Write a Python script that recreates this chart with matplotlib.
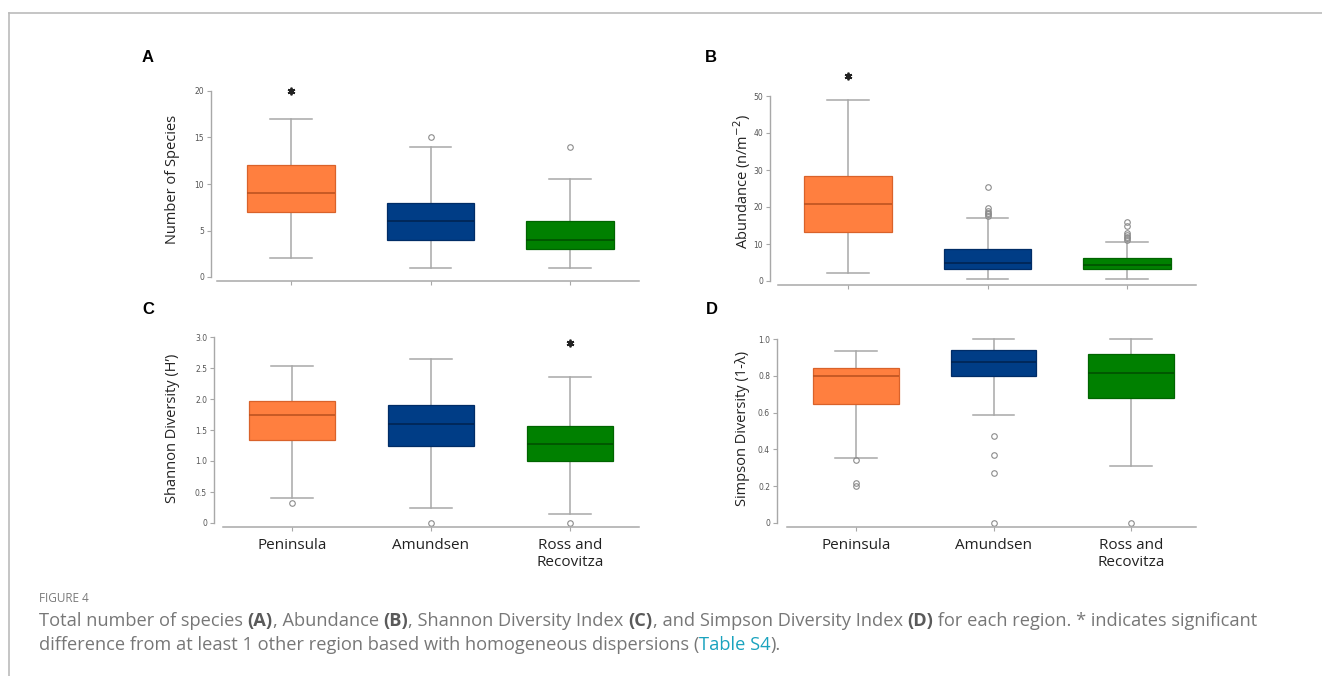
import matplotlib
matplotlib.use("Agg")
import matplotlib.pyplot as plt
from matplotlib.lines import Line2D

W, H = 1322, 676
DPI = 100

# ---------------- data ----------------
categories = ["Peninsula", "Amundsen", "Ross and\nRecovitza"]
box_colors = ["#FF7F3F", "#003D86", "#008000"]
edge_colors = ["#D9622A", "#002C66", "#006400"]
median_colors = ["#B8501E", "#00224F", "#004D00"]

species_whislo = [2, 1, 1]
species_q1 = [7, 4, 3]
species_med = [9, 6, 4]
species_q3 = [12, 8, 6]
species_whishi = [17, 14, 10.5]
species_fliers = [[], [15], [14]]
species_star = [20, None, None]
species_ticks = [0, 5, 10, 15, 20]
species_ticklabels = ["0", "5", "10", "15", "20"]

abund_whislo = [2.2, 0.6, 0.6]
abund_q1 = [13.2, 3.3, 3.3]
abund_med = [20.8, 5.0, 4.3]
abund_q3 = [28.5, 8.7, 6.1]
abund_whishi = [48.9, 17.1, 10.5]
abund_fliers = [[], [17.5, 18.0, 18.5, 19.0, 19.6, 25.3],
                [11.2, 11.6, 12.0, 12.5, 12.9, 14.8, 15.9]]
abund_star = [55.4, None, None]
abund_ticks = [0, 10, 20, 30, 40, 50]
abund_ticklabels = ["0", "10", "20", "30", "40", "50"]

shannon_whislo = [0.41, 0.25, 0.15]
shannon_q1 = [1.34, 1.24, 1.00]
shannon_med = [1.74, 1.60, 1.27]
shannon_q3 = [1.96, 1.91, 1.56]
shannon_whishi = [2.54, 2.65, 2.35]
shannon_fliers = [[0.32], [0.0], [0.0]]
shannon_star = [None, None, 2.90]
shannon_ticks = [0, 0.5, 1.0, 1.5, 2.0, 2.5, 3.0]
shannon_ticklabels = ["0", "0.5", "1.0", "1.5", "2.0", "2.5", "3.0"]

simpson_whislo = [0.355, 0.587, 0.308]
simpson_q1 = [0.647, 0.801, 0.678]
simpson_med = [0.797, 0.873, 0.817]
simpson_q3 = [0.841, 0.942, 0.920]
simpson_whishi = [0.937, 1.0, 1.0]
simpson_fliers = [[0.344, 0.216, 0.199], [0.473, 0.371, 0.270, 0.0], [0.0]]
simpson_star = [None, None, None]
simpson_ticks = [0, 0.2, 0.4, 0.6, 0.8, 1.0]
simpson_ticklabels = ["0", "0.2", "0.4", "0.6", "0.8", "1.0"]

# ---------------- figure ----------------
fig = plt.figure(figsize=(W / DPI, H / DPI), dpi=DPI)
fig.patch.set_facecolor("white")

GRID = "#A8A8A8"
TICKTXT = "#555555"


def px_axes(x0, x1, ytop, ybot):
    return fig.add_axes([x0 / W, 1 - ybot / H, (x1 - x0) / W, (ybot - ytop) / H])


def make_panel(layout, whislo, q1, med, q3, whishi, fliers, stars,
               ticks, ticklabels, ylabel, letter, show_xlabels):
    (ax_left, ax_right, line_left, y_top, y_bot,
     cat0, cat_step, ypx0, ypx1, v0, v1, ylab_x, letter_xy) = layout
    ax = px_axes(ax_left, ax_right, y_top, y_bot)
    xlo = (ax_left - cat0) / cat_step
    xhi = (ax_right - cat0) / cat_step
    ppu = (ypx0 - ypx1) / (v1 - v0)
    ylo = v0 - (y_bot - ypx0) / ppu
    yhi = v0 + (ypx0 - y_top) / ppu
    ax.set_xlim(xlo, xhi)
    ax.set_ylim(ylo, yhi)

    stats = []
    for i in range(len(categories)):
        stats.append(dict(med=med[i], q1=q1[i], q3=q3[i], whislo=whislo[i],
                          whishi=whishi[i], fliers=fliers[i], label=categories[i]))
    pos = list(range(len(categories)))
    bp = ax.bxp(stats, positions=pos, widths=0.625, patch_artist=True,
                showfliers=True, capwidths=0.30,
                whiskerprops=dict(color=GRID, lw=1.1),
                capprops=dict(color=GRID, lw=1.1),
                flierprops=dict(marker="o", markersize=4.0, markerfacecolor="none",
                                markeredgecolor="#8C8C8C", markeredgewidth=0.8),
                medianprops=dict(lw=1.1))
    for i, b in enumerate(bp["boxes"]):
        b.set_facecolor(box_colors[i])
        b.set_edgecolor(edge_colors[i])
        b.set_linewidth(0.9)
        b.set_zorder(3)
    for i, m in enumerate(bp["medians"]):
        m.set_color(median_colors[i])
        m.set_zorder(4)

    for i, s in enumerate(stars):
        if s is not None:
            ax.plot([pos[i]], [s], marker=(6, 2, 0), markersize=5.5,
                    color="#222222", markeredgewidth=1.3, clip_on=False, zorder=5)

    for sp in ["top", "right"]:
        ax.spines[sp].set_visible(False)
    ax.spines["left"].set_color(GRID)
    ax.spines["bottom"].set_color(GRID)
    ax.spines["left"].set_linewidth(1.0)
    ax.spines["bottom"].set_linewidth(1.1)
    ax.spines["left"].set_bounds(ticks[0], ticks[-1])
    ax.spines["bottom"].set_bounds((line_left - cat0) / cat_step, xhi)

    ax.set_yticks(ticks)
    ax.set_yticklabels(ticklabels)
    ax.tick_params(axis="y", direction="out", length=3, width=0.8, color=GRID,
                   labelsize=5.5, labelcolor=TICKTXT, pad=2)
    ax.set_xticks(pos)
    if show_xlabels:
        ax.set_xticklabels(categories, fontsize=11, family="Open Sans",
                           color="#222222", linespacing=1.15)
    else:
        ax.set_xticklabels([])
    ax.tick_params(axis="x", direction="out", length=3, width=0.8, color=GRID, pad=5)

    fig.text(ylab_x / W, 1 - ((y_top + y_bot) / 2) / H, ylabel, rotation=90,
             ha="center", va="center", fontsize=10.5, family="Open Sans",
             color="#222222")
    fig.text(letter_xy[0] / W, 1 - letter_xy[1] / H, letter, ha="center",
             va="center", fontsize=12, fontweight="bold",
             family="Liberation Sans", color="black")
    return ax


# layout: ax_left, ax_right, line_left, y_top, y_bot, cat0, cat_step,
#         px of v0, px of v1, v0, v1, ylabel x, letter position
layout_A = (211, 639, 217, 78, 281, 291, 139.5, 277, 91, 0, 20, 172, (148, 57))
layout_B = (770, 1196, 778, 78, 285, 848, 139.5, 281, 96, 0, 50, 742, (711, 57))
layout_C = (214, 639, 223, 330, 527, 292, 139.0, 523, 337, 0, 3.0, 172, (148, 310))
layout_D = (777, 1196, 787, 330, 527, 856, 137.5, 523, 339, 0, 1.0, 742, (712, 310))

make_panel(layout_A, species_whislo, species_q1, species_med, species_q3,
           species_whishi, species_fliers, species_star, species_ticks,
           species_ticklabels, "Number of Species", "A", False)
make_panel(layout_B, abund_whislo, abund_q1, abund_med, abund_q3,
           abund_whishi, abund_fliers, abund_star, abund_ticks,
           abund_ticklabels, r"Abundance (n/m$^{-2}$)", "B", False)
make_panel(layout_C, shannon_whislo, shannon_q1, shannon_med, shannon_q3,
           shannon_whishi, shannon_fliers, shannon_star, shannon_ticks,
           shannon_ticklabels, "Shannon Diversity (H\u2019)", "C", True)
make_panel(layout_D, simpson_whislo, simpson_q1, simpson_med, simpson_q3,
           simpson_whishi, simpson_fliers, simpson_star, simpson_ticks,
           simpson_ticklabels, "Simpson Diversity (1-\u03bb)", "D", True)

# ---------------- frame ----------------
fig.add_artist(Line2D([9 / W, 1.0], [1 - 13 / H, 1 - 13 / H], color="#BBBBBB",
                      lw=1.2, transform=fig.transFigure))
fig.add_artist(Line2D([9 / W, 9 / W], [1 - 13 / H, 0], color="#BBBBBB",
                      lw=1.2, transform=fig.transFigure))

# ---------------- caption ----------------
fig.text(39 / W, 1 - 598 / H, "FIGURE 4", ha="left", va="center", fontsize=8.5,
         family="Open Sans", color="#7A7A7A")

NORMAL = dict(color="#777777", fontweight="normal")
BOLD = dict(color="#5A5A5A", fontweight="bold")
LINK = dict(color="#1AA3BE", fontweight="normal")
line1 = [("Total number of species ", NORMAL), ("(A)", BOLD), (", Abundance ", NORMAL),
         ("(B)", BOLD), (", Shannon Diversity Index ", NORMAL), ("(C)", BOLD),
         (", and Simpson Diversity Index ", NORMAL), ("(D)", BOLD),
         (" for each region. * indicates significant", NORMAL)]
line2 = [("difference from at least 1 other region based with homogeneous dispersions (",
          NORMAL), ("Table S4", LINK), (").", NORMAL)]

renderer = fig.canvas.get_renderer()


def adv(s, size, weight):
    t1 = fig.text(0, 0, "x" + s + "x", fontsize=size, family="Open Sans",
                  fontweight=weight)
    t2 = fig.text(0, 0, "xx", fontsize=size, family="Open Sans", fontweight=weight)
    w = t1.get_window_extent(renderer).width - t2.get_window_extent(renderer).width
    t1.remove()
    t2.remove()
    return w


base = 11.0
w1 = sum(adv(s, base, st["fontweight"]) for s, st in line1)
cap_size = base * (1262 - 39) / w1


def draw_line(pieces, ypx):
    x = 39.0
    for s, st in pieces:
        fig.text(x / W, 1 - ypx / H, s, ha="left", va="center", fontsize=cap_size,
                 family="Open Sans", **st)
        x += adv(s, cap_size, st["fontweight"])


draw_line(line1, 621)
draw_line(line2, 645)

fig.savefig("out.png", dpi=DPI, facecolor="white")
